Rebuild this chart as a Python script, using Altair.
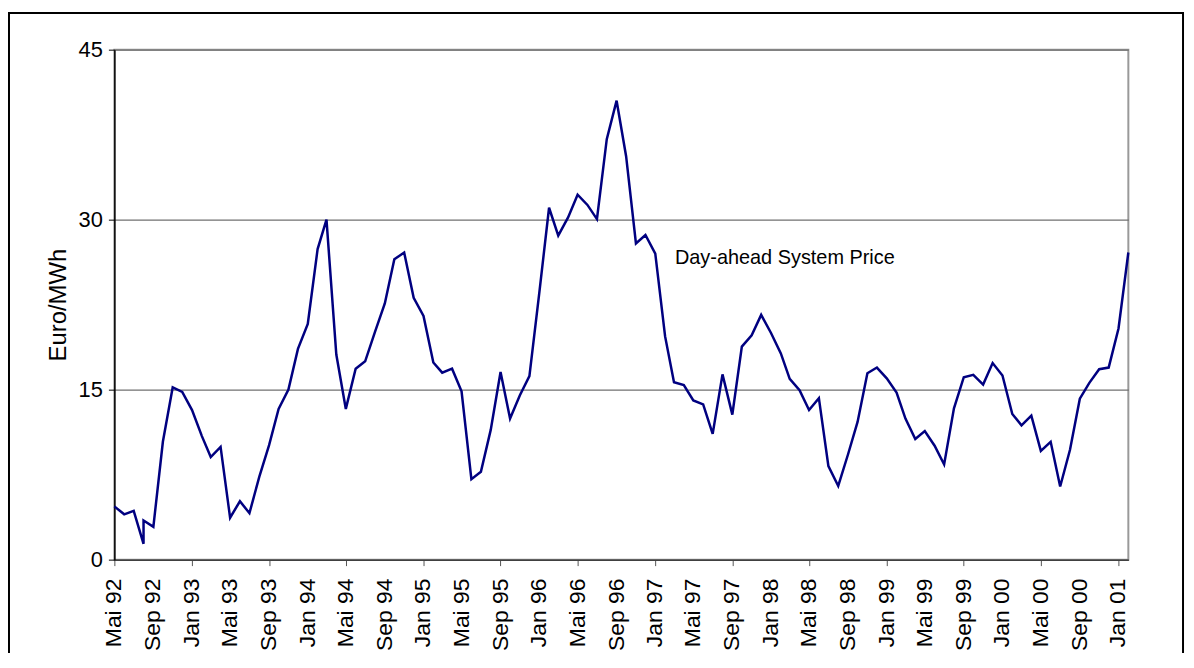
import altair as alt
import pandas as pd

# ---- data (monthly day-ahead system price, Euro/MWh); Aug 92 has two readings ----
months = [
    "1992-05", "1992-06", "1992-07", "1992-08", "1992-08", "1992-09", "1992-10", "1992-11", "1992-12",
    "1993-01", "1993-02", "1993-03", "1993-04", "1993-05", "1993-06", "1993-07", "1993-08", "1993-09",
    "1993-10", "1993-11", "1993-12",
    "1994-01", "1994-02", "1994-03", "1994-04", "1994-05", "1994-06", "1994-07", "1994-08", "1994-09",
    "1994-10", "1994-11", "1994-12",
    "1995-01", "1995-02", "1995-03", "1995-04", "1995-05", "1995-06", "1995-07", "1995-08", "1995-09",
    "1995-10", "1995-11", "1995-12",
    "1996-01", "1996-02", "1996-03", "1996-04", "1996-05", "1996-06", "1996-07", "1996-08", "1996-09",
    "1996-10", "1996-11", "1996-12",
    "1997-01", "1997-02", "1997-03", "1997-04", "1997-05", "1997-06", "1997-07", "1997-08", "1997-09",
    "1997-10", "1997-11", "1997-12",
    "1998-01", "1998-02", "1998-03", "1998-04", "1998-05", "1998-06", "1998-07", "1998-08", "1998-09",
    "1998-10", "1998-11", "1998-12",
    "1999-01", "1999-02", "1999-03", "1999-04", "1999-05", "1999-06", "1999-07", "1999-08", "1999-09",
    "1999-10", "1999-11", "1999-12",
    "2000-01", "2000-02", "2000-03", "2000-04", "2000-05", "2000-06", "2000-07", "2000-08", "2000-09",
    "2000-10", "2000-11", "2000-12",
    "2001-01", "2001-02",
]
prices = [
    4.7, 4.0, 4.3, 1.4, 3.45, 2.9, 10.4, 15.2, 14.8,
    13.2, 10.9, 9.05, 9.95, 3.7, 5.15, 4.1, 7.3, 10.1,
    13.3, 15.0, 18.6,
    20.8, 27.4, 30.0, 18.1, 13.3, 16.85, 17.5, 20.1, 22.6,
    26.5, 27.1, 23.1,
    21.5, 17.4, 16.5, 16.85, 14.85, 7.1, 7.75, 11.45, 16.55,
    12.45, 14.5, 16.2,
    23.5, 31.05, 28.6, 30.2, 32.2, 31.3, 30.05, 37.1, 40.5,
    35.6, 27.9, 28.65,
    27.0, 19.7, 15.65, 15.4, 14.05, 13.7, 11.1, 16.35, 12.8,
    18.8, 19.8, 21.6,
    20.0, 18.2, 15.95, 14.95, 13.2, 14.25, 8.25, 6.5, 9.3,
    12.15, 16.45, 16.95,
    16.0, 14.75, 12.45, 10.65, 11.35, 10.05, 8.4, 13.35, 16.1,
    16.3, 15.45, 17.35,
    16.25, 12.85, 11.85, 12.7, 9.6, 10.4, 6.45, 9.7, 14.2,
    15.6, 16.8, 16.95,
    20.4, 27.1,
]

tick_months = ["1992-05", "1992-09", "1993-01", "1993-05", "1993-09", "1994-01", "1994-05",
               "1994-09", "1995-01", "1995-05", "1995-09", "1996-01", "1996-05", "1996-09",
               "1997-01", "1997-05", "1997-09", "1998-01", "1998-05", "1998-09", "1999-01",
               "1999-05", "1999-09", "2000-01", "2000-05", "2000-09", "2001-01"]
tick_labels = ["Mai 92", "Sep 92", "Jan 93", "Mai 93", "Sep 93", "Jan 94", "Mai 94",
               "Sep 94", "Jan 95", "Mai 95", "Sep 95", "Jan 96", "Mai 96", "Sep 96",
               "Jan 97", "Mai 97", "Sep 97", "Jan 98", "Mai 98", "Sep 98", "Jan 99",
               "Mai 99", "Sep 99", "Jan 00", "Mai 00", "Sep 00", "Jan 01"]

y_ticks = [0, 15, 30, 45]

ann_text = ["Day-ahead System Price"]
ann_month = ["1997-03-04"]
ann_value = [26.1]

# ---- tables ----
df = pd.DataFrame({
    "i": list(range(len(months))),
    "date": [m + "-01" for m in months],
    "price": prices,
})
ticks_df = pd.DataFrame({"date": [m + "-01" for m in tick_months], "label": tick_labels})
ann = pd.DataFrame({"date": ann_month, "price": ann_value, "label": ann_text})


def ms(s):
    return int(pd.Timestamp(s, tz="UTC").timestamp() * 1000)


tick_values = [ms(m + "-01") for m in tick_months]

FONT = "Arial, Liberation Sans, sans-serif"
PLOT_W, PLOT_H = 1020, 513

x_scale = alt.Scale(type="utc", domain=[ms(df["date"].iloc[0]), ms(df["date"].iloc[-1])], nice=False)

x_enc = alt.X(
    "date:T",
    scale=x_scale,
    axis=alt.Axis(
        values=tick_values,
        labels=False,
        tickSize=6,
        tickColor="#555555",
        domainColor="#404040",
        domainWidth=1.5,
        grid=False,
        title=None,
    ),
)
y_enc = alt.Y(
    "price:Q",
    scale=alt.Scale(domain=[0, 45], nice=False),
    axis=alt.Axis(
        values=y_ticks,
        title="Euro/MWh",
        titleFontSize=24,
        titleFontWeight="normal",
        titlePadding=8,
        labelFontSize=22,
        labelPadding=6,
        tickSize=6,
        tickColor="#000000",
        domainColor="#000000",
        domainWidth=1.5,
        grid=True,
        gridColor="#707070",
        gridWidth=1.2,
    ),
)

line = alt.Chart(df).mark_line(color="#000080", strokeWidth=2.5).encode(
    x=x_enc, y=y_enc, order="i:Q"
)

# rotated month labels under the x axis (positioned by the time scale)
xlabels = alt.Chart(ticks_df).mark_text(
    angle=270, align="right", baseline="middle", fontSize=23, font=FONT, color="black"
).encode(
    x=alt.X("date:T", scale=x_scale),
    y=alt.value(PLOT_H + 19),
    text="label:N",
)

label = alt.Chart(ann).mark_text(
    align="left", baseline="alphabetic", fontSize=20, font=FONT, color="black"
).encode(x="date:T", y="price:Q", text="label:N")

frame = alt.Chart(alt.Data(values=[{"f": 1}])).mark_rect(
    filled=False, stroke="black", strokeWidth=2, clip=False
).encode(x=alt.value(-106), x2=alt.value(1075), y=alt.value(-37), y2=alt.value(700))

chart = alt.layer(line, xlabels, label, frame).properties(
    width=PLOT_W,
    height=PLOT_H,
    padding={"left": 107, "top": 40, "right": 58, "bottom": 92},
    autosize=alt.AutoSizeParams(type="none"),
    background="white",
).configure(
    font=FONT,
).configure_axis(
    labelFont=FONT,
    titleFont=FONT,
    labelColor="black",
    titleColor="black",
).configure_view(
    stroke="#999999",
    strokeWidth=2,
)

chart.save("out.html", embed_options={"renderer": "svg", "actions": False})
